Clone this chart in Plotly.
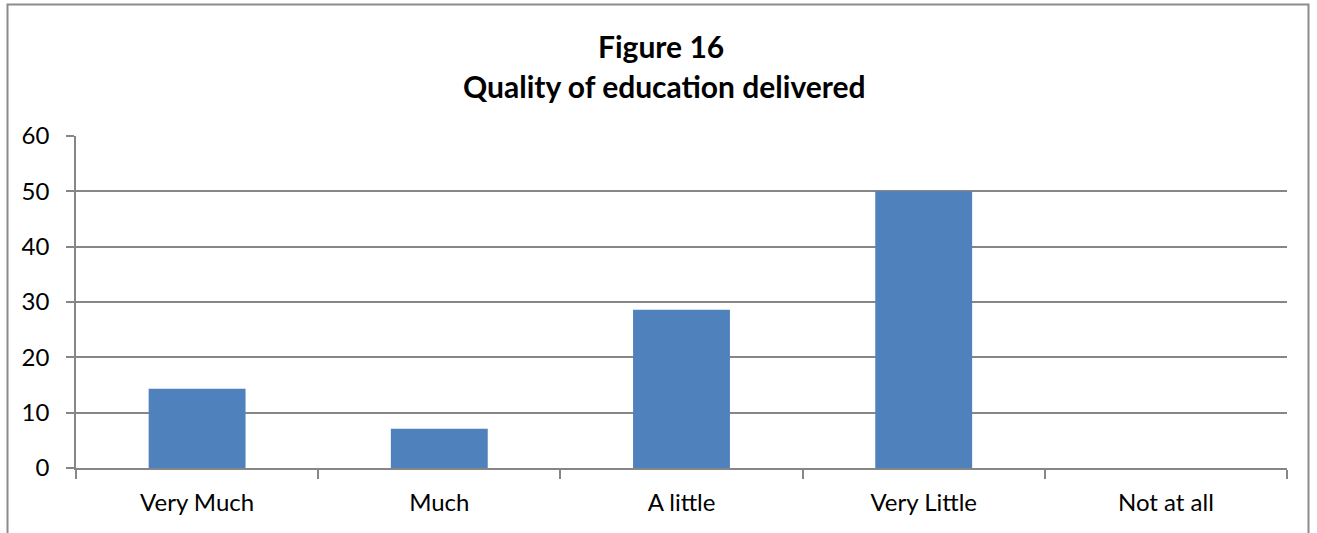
import plotly.graph_objects as go

categories = ["Very Much", "Much", "A little", "Very Little", "Not at all"]
values = [14.3, 7.1, 28.6, 50.0, 0.0]
y_ticks = [0, 10, 20, 30, 40, 50, 60]
title_line1 = "Figure 16"
title_line2 = "Quality of education delivered"

OFF = 0  # body margin removed via post_script
W, H = 1317, 533
L, T = 76 - OFF, 136 - OFF
pw, ph = 1211, 332
R, B = W - L - pw, H - T - ph

def px_x(x):
    return (x - OFF - L) / pw

def px_y(y):
    return (T + ph - (y - OFF)) / ph

FONT = "Lato, Calibri, Carlito, sans-serif"

fig = go.Figure(go.Bar(x=categories, y=values, marker=dict(color="#4F81BD", line=dict(width=0)),
                       width=0.4, hoverinfo="x+y"))

fig.update_layout(
    width=W, height=H,
    margin=dict(l=L, r=R, t=T, b=B),
    paper_bgcolor="white", plot_bgcolor="white",
    showlegend=False,
    font=dict(family=FONT, size=24, color="black"),
    xaxis=dict(type="category", showline=True, linecolor="#868686", linewidth=1.5,
               ticks="outside", tickson="boundaries", ticklen=9, tickcolor="#868686", tickwidth=1.5,
               showgrid=False, tickfont=dict(size=24), ticklabelstandoff=12),
    yaxis=dict(range=[0, 60], tickvals=y_ticks, showline=True, linecolor="#868686", linewidth=1.5,
               ticks="outside", ticklen=8, tickcolor="#868686", tickwidth=1.5,
               showgrid=True, gridcolor="#868686", gridwidth=1.5, zeroline=False,
               tickfont=dict(size=24), ticklabelstandoff=12),
    shapes=[dict(type="rect", xref="paper", yref="paper",
                 x0=px_x(7.5), x1=px_x(1308.5), y0=px_y(560), y1=px_y(4.5),
                 line=dict(color="#8c8c8c", width=2), layer="below")],
    annotations=[
        dict(text="<b>" + title_line1 + "</b>", xref="paper", yref="paper", x=px_x(661), y=px_y(46),
             showarrow=False, font=dict(size=30, family=FONT), xanchor="center", yanchor="middle"),
        dict(text="<b>" + title_line2 + "</b>", xref="paper", yref="paper", x=px_x(664), y=px_y(86),
             showarrow=False, font=dict(size=30, family=FONT), xanchor="center", yanchor="middle"),
    ],
)

fig.write_html("out.html", config={"displayModeBar": False},
               post_script="document.body.style.margin='0';document.body.style.padding='0';")
